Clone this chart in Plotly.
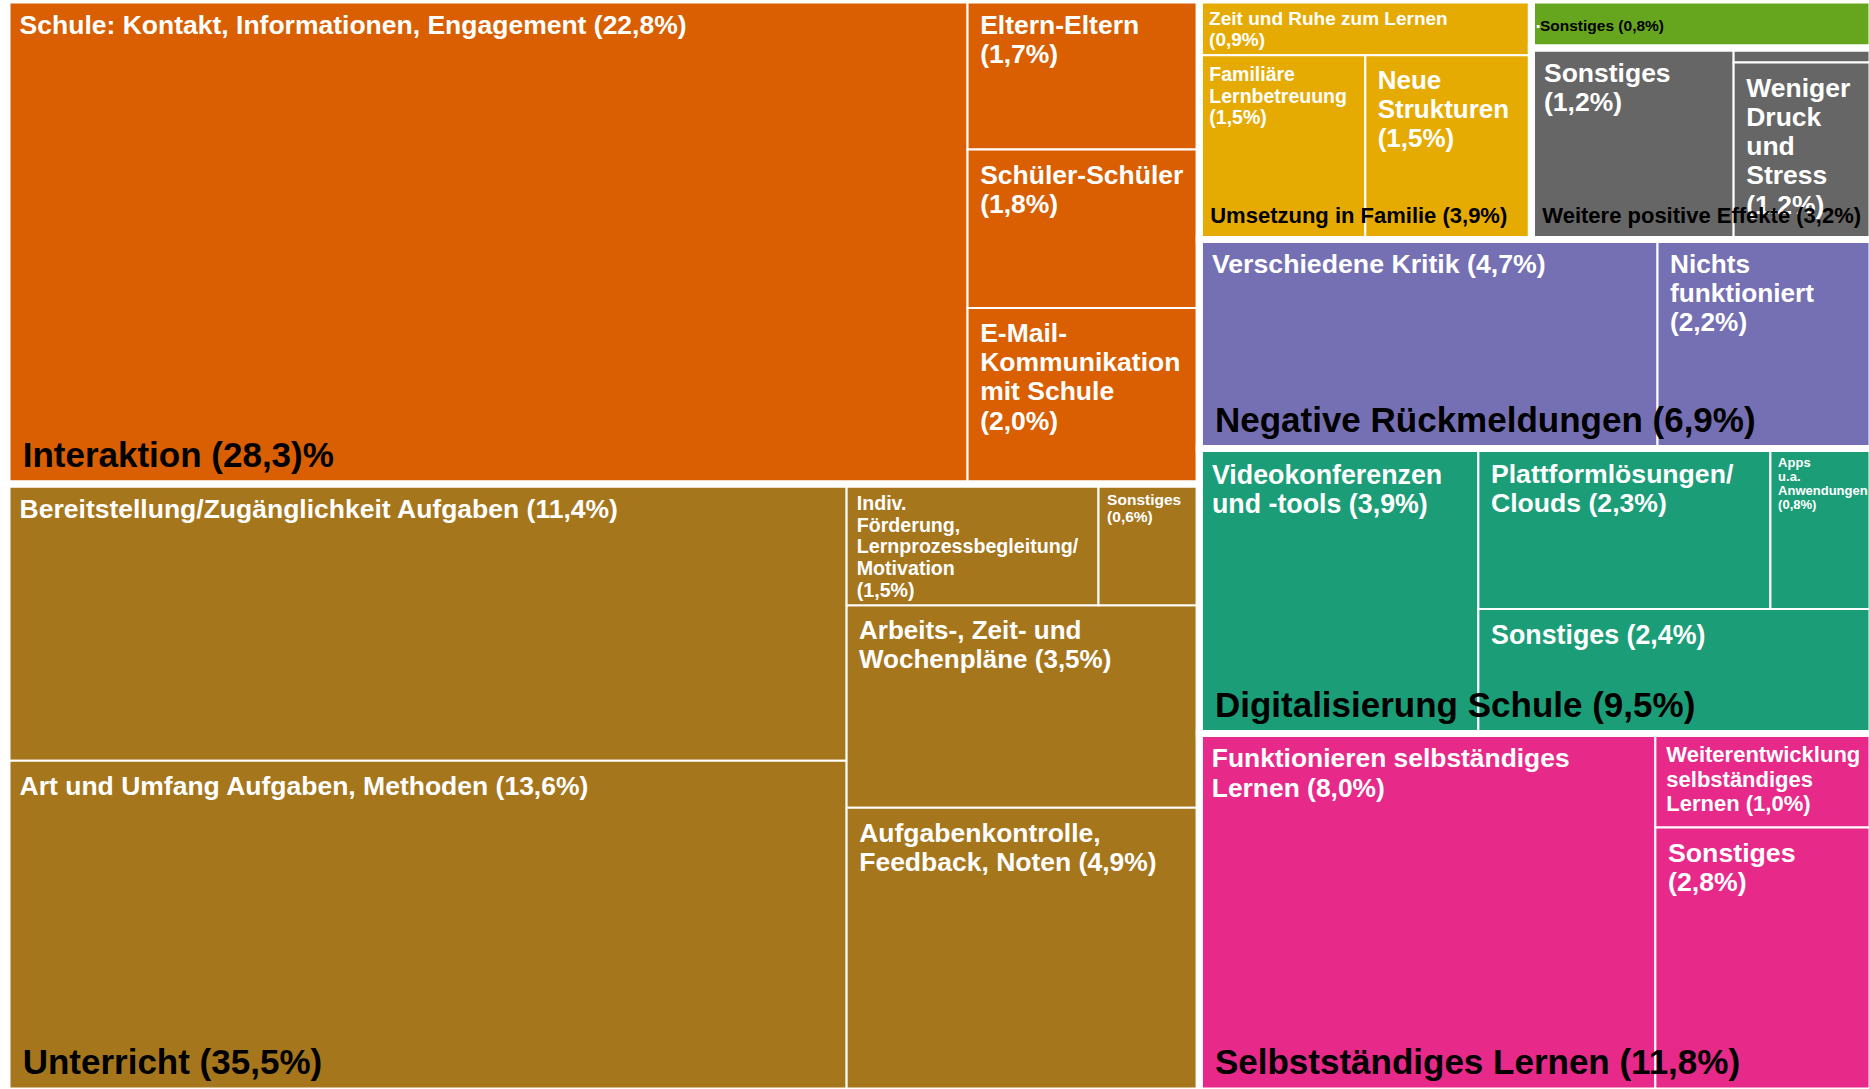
import plotly.graph_objects as go

# ---------------- data ----------------
group_names = ["Interaktion", "Unterricht", "Umsetzung in Familie", "Sonstiges",
               "Weitere positive Effekte", "Negative Rückmeldungen",
               "Digitalisierung Schule", "Selbstständiges Lernen"]
group_labels = ["Interaktion (28,3)%", "Unterricht (35,5%)", "Umsetzung in Familie (3,9%)",
                "Sonstiges (0,8%)", "Weitere positive Effekte (3,2%)",
                "Negative Rückmeldungen (6,9%)", "Digitalisierung Schule (9,5%)",
                "Selbstständiges Lernen (11,8%)"]
group_colors = ["#D95F02", "#A6761D", "#E6AB02", "#66A61E", "#666666",
                "#7570B3", "#1B9E77", "#E7298A"]
group_label_sizes = [35, 35, 22, 15.5, 22, 35, 35, 35]

interaktion_labels = ["Schule: Kontakt, Informationen, Engagement (22,8%)",
                      "Eltern-Eltern<br>(1,7%)", "Schüler-Schüler<br>(1,8%)",
                      "E-Mail-<br>Kommunikation<br>mit Schule<br>(2,0%)"]
interaktion_values = [22.8, 1.7, 1.8, 2.0]
interaktion_sizes = [26.5, 26.5, 26.5, 26.5]

unterricht_labels = ["Bereitstellung/Zugänglichkeit Aufgaben (11,4%)",
                     "Art und Umfang Aufgaben, Methoden (13,6%)",
                     "Indiv.<br>Förderung,<br>Lernprozessbegleitung/<br>Motivation<br>(1,5%)",
                     "Sonstiges<br>(0,6%)",
                     "Arbeits-, Zeit- und<br>Wochenpläne (3,5%)",
                     "Aufgabenkontrolle,<br>Feedback, Noten (4,9%)"]
unterricht_values = [11.4, 13.6, 1.5, 0.6, 3.5, 4.9]
unterricht_sizes = [26.5, 26.5, 20.5, 15.5, 26, 26.5]

familie_labels = ["Zeit und Ruhe zum Lernen<br>(0,9%)", "Familiäre<br>Lernbetreuung<br>(1,5%)",
                  "Neue<br>Strukturen<br>(1,5%)"]
familie_values = [0.9, 1.5, 1.5]
familie_sizes = [19, 19.5, 26]

sonstiges_labels = ["."]
sonstiges_values = [0.8]
sonstiges_sizes = [28]

weitere_labels = ["Sonstiges<br>(1,2%)", "", "Weniger<br>Druck<br>und<br>Stress<br>(1,2%)"]
weitere_values = [1.9, 0.1, 1.2]
weitere_sizes = [26.5, 10, 26.5]

negativ_labels = ["Verschiedene Kritik (4,7%)", "Nichts<br>funktioniert<br>(2,2%)"]
negativ_values = [4.7, 2.2]
negativ_sizes = [26.7, 26.2]

digital_labels = ["Videokonferenzen<br>und -tools (3,9%)", "Plattformlösungen/<br>Clouds (2,3%)",
                  "Apps<br>u.a.<br>Anwendungen<br>(0,8%)", "Sonstiges (2,4%)"]
digital_values = [3.9, 2.3, 0.8, 2.4]
digital_sizes = [26.8, 26.6, 13, 26.8]

selbst_labels = ["Funktionieren selbständiges<br>Lernen (8,0%)",
                 "Weiterentwicklung<br>selbständiges<br>Lernen (1,0%)", "Sonstiges<br>(2,8%)"]
selbst_values = [8.0, 1.0, 2.8]
selbst_sizes = [26.4, 22, 26.7]

# nesting used for the slice/dice arrangement (indices into the lists above)
top_nesting = [[0, 1], [[2, [3, 4]], 5, 6, 7]]
group_leaves = [
    (interaktion_labels, interaktion_values, interaktion_sizes, [0, [1, 2, 3]]),
    (unterricht_labels, unterricht_values, unterricht_sizes, [[0, 1], [[2, 3], 4, 5]]),
    (familie_labels, familie_values, familie_sizes, [0, [1, 2]]),
    (sonstiges_labels, sonstiges_values, sonstiges_sizes, [0]),
    (weitere_labels, weitere_values, weitere_sizes, [0, [1, 2]]),
    (negativ_labels, negativ_values, negativ_sizes, [0, 1]),
    (digital_labels, digital_values, digital_sizes, [0, [[1, 2], 3]]),
    (selbst_labels, selbst_values, selbst_sizes, [0, [1, 2]]),
]

FONT = "Liberation Sans, Arial, sans-serif"
NB = "\u00a0"
LINE_FACTOR = 0.85   # base font relative to the label size -> tighter line spacing


def leaf_text(label, size):
    if label in ("", "."):
        return label
    big = f"<span style='font-size:{size * 1.3:.1f}px'>{NB}</span>"
    lines = [f"{big}<span style='font-size:{size}px'>{ln}</span>"
             for ln in label.split("<br>")]
    return "<b>" + "<br>".join(lines) + "</b>"


def group_text(label, size):
    big = f"<span style='font-size:{size * 1.3:.1f}px'>{NB}</span>"
    # small trailing line lifts the group title a little above the bottom edge
    return f"<b>{big}<span style='font-size:{size}px'>{label}</span></b><br>{NB}"


def make_arrays(with_leaves):
    d = dict(ids=[], parents=[], text=[], values=[], colors=[], sizes=[], widths=[])

    def add(i, p, t, v, c, s, w):
        d["ids"].append(i); d["parents"].append(p); d["text"].append(t)
        d["values"].append(v); d["colors"].append(c); d["sizes"].append(s)
        d["widths"].append(w)

    def add_leaves(struct, pid, g):
        labels, vals, sizes, _ = group_leaves[g]
        for k, item in enumerate(struct):
            if isinstance(item, list):
                nid = f"{pid}/b{k}"
                add(nid, pid, "", 0, group_colors[g], 10, 0)
                add_leaves(item, nid, g)
            else:
                s = sizes[item]
                base = s if labels[item] == "." else round(s * LINE_FACTOR, 1)
                add(f"{pid}/l{item}", pid, leaf_text(labels[item], s), vals[item],
                    group_colors[g], base, 2)

    def add_top(struct, pid):
        for k, item in enumerate(struct):
            if isinstance(item, list):
                nid = f"{pid}/t{k}"
                add(nid, pid, "", 0, "rgba(0,0,0,0)", 10, 0)
                add_top(item, nid)
            else:
                gid = f"g{item}"
                if with_leaves:
                    add(gid, pid, "", 0, group_colors[item], 10, 0)
                    add_leaves(group_leaves[item][3], gid, item)
                else:
                    add(gid, pid, group_text(group_labels[item], group_label_sizes[item]),
                        sum(group_leaves[item][1]), "rgba(0,0,0,0)", 9, 7)

    add("root", "", "", 0, "rgba(0,0,0,0)", 10, 0)
    add_top(top_nesting, "root")
    return d


A = make_arrays(True)
B = make_arrays(False)

common = dict(
    branchvalues="remainder",
    sort=False,
    tiling=dict(packing="slice-dice", pad=0),
    pathbar=dict(visible=False),
    root=dict(color="rgba(0,0,0,0)"),
    texttemplate="%{text}",
    domain=dict(x=[0, 1], y=[0, 1]),
)

fig = go.Figure()
fig.add_trace(go.Treemap(
    ids=A["ids"], parents=A["parents"], values=A["values"], text=A["text"],
    labels=A["ids"],
    marker=dict(colors=A["colors"], line=dict(color="white", width=A["widths"]),
                pad=dict(t=0, l=0, r=0, b=0)),
    textposition="top left",
    textfont=dict(family=FONT, color="white", size=A["sizes"]),
    hoverinfo="skip",
    **common,
))
fig.add_trace(go.Treemap(
    ids=B["ids"], parents=B["parents"], values=B["values"], text=B["text"],
    labels=B["ids"],
    marker=dict(colors=B["colors"], line=dict(color="white", width=B["widths"]),
                pad=dict(t=0, l=0, r=0, b=0)),
    textposition="bottom left",
    textfont=dict(family=FONT, color="black", size=B["sizes"]),
    hoverinfo="skip",
    **common,
))
fig.update_layout(
    width=1872, height=1091,
    margin=dict(l=7, r=0, t=0, b=0),
    paper_bgcolor="white",
    showlegend=False,
)
fig.write_html(
    "out.html",
    config={"displayModeBar": False},
    post_script="document.body.style.margin='0';document.body.style.overflow='hidden';",
)
